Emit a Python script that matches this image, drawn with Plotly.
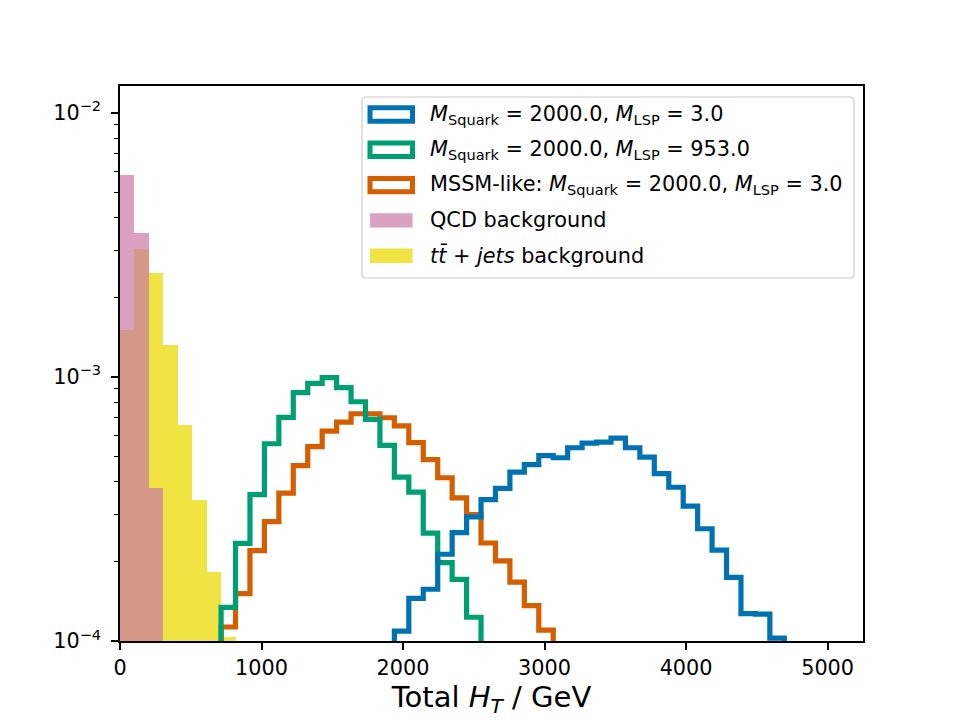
import numpy as np
import plotly.graph_objects as go

# histogram binning: 49 equal bins between 0 and 5000 GeV
bin_edges = np.linspace(0, 5000, 50)
bin_width = bin_edges[1] - bin_edges[0]

# normalised counts per bin (first_bin = index of first filled bin)
qcd_first_bin = 0
qcd_values = [5.82e-3, 3.50e-3, 3.80e-4]

ttbar_first_bin = 0
ttbar_values = [1.50e-3, 3.06e-3, 2.47e-3, 1.32e-3, 6.59e-4, 3.41e-4, 1.82e-4, 1.04e-4]

lsp3_first_bin = 19
lsp3_values = [1.09e-4, 1.45e-4, 1.57e-4, 2.13e-4, 2.57e-4, 2.95e-4, 3.43e-4, 3.78e-4,
               4.36e-4, 4.65e-4, 5.03e-4, 4.94e-4, 5.39e-4, 5.61e-4, 5.66e-4, 5.86e-4,
               5.39e-4, 4.97e-4, 4.30e-4, 3.82e-4, 3.24e-4, 2.66e-4, 2.21e-4, 1.74e-4,
               1.27e-4, 1.265e-4, 1.025e-4]

lsp953_first_bin = 7
lsp953_values = [1.34e-4, 2.34e-4, 3.58e-4, 5.58e-4, 7.02e-4, 8.71e-4, 9.45e-4, 9.93e-4,
                 9.10e-4, 8.05e-4, 6.90e-4, 5.50e-4, 4.17e-4, 3.66e-4, 2.56e-4, 1.98e-4,
                 1.71e-4, 1.23e-4]

mssm_first_bin = 7
mssm_values = [1.13e-4, 1.51e-4, 2.20e-4, 2.83e-4, 3.63e-4, 4.61e-4, 5.44e-4, 6.23e-4,
               6.74e-4, 7.25e-4, 7.25e-4, 7.00e-4, 6.52e-4, 5.64e-4, 4.86e-4, 4.15e-4,
               3.48e-4, 3.01e-4, 2.35e-4, 2.01e-4, 1.67e-4, 1.36e-4, 1.10e-4]

x_ticks = [0, 1000, 2000, 3000, 4000, 5000]
y_ticks = [1e-4, 1e-3, 1e-2]
y_tick_text = ["10<sup>\u22124</sup>", "10<sup>\u22123</sup>", "10<sup>\u22122</sup>"]
y_minor = [m * 10.0 ** e for e in (-4, -3, -2) for m in range(2, 10)]

BLUE = "#0072B2"
GREEN = "#009E73"
ORANGE = "#D55E00"
PINK = "#CC79A7"
YELLOW = "#F0E442"
FONT = "DejaVu Sans"
FS = 20.8

label_lsp3 = "<i>M</i><sub>Squark</sub> = 2000.0, <i>M</i><sub>LSP</sub> = 3.0"
label_lsp953 = "<i>M</i><sub>Squark</sub> = 2000.0, <i>M</i><sub>LSP</sub> = 953.0"
label_mssm = "MSSM-like: <i>M</i><sub>Squark</sub> = 2000.0, <i>M</i><sub>LSP</sub> = 3.0"
label_qcd = "QCD background"
label_ttbar = "<i>tt\u0304</i> + <i>jets</i> background"

FLOOR = 1e-6  # below the axis, so the outline starts/ends at the bottom


def bar_trace(first_bin, values, color, opacity):
    n = len(values)
    centers = (bin_edges[first_bin:first_bin + n] + bin_edges[first_bin + 1:first_bin + n + 1]) / 2
    return go.Bar(x=centers, y=values, width=bin_width, marker=dict(color=color, line=dict(width=0)),
                  opacity=opacity, showlegend=False, hoverinfo="skip")


def step_trace(first_bin, values, color):
    n = len(values)
    x = [bin_edges[first_bin]] + list(bin_edges[first_bin:first_bin + n + 1])
    y = [FLOOR] + list(values) + [FLOOR]
    return go.Scatter(x=x, y=y, mode="lines", line=dict(color=color, width=5.2, shape="hv"),
                      showlegend=False, hoverinfo="skip")


fig = go.Figure()
fig.add_trace(bar_trace(ttbar_first_bin, ttbar_values, YELLOW, 1.0))
fig.add_trace(bar_trace(qcd_first_bin, qcd_values, PINK, 0.7))
fig.add_trace(step_trace(mssm_first_bin, mssm_values, ORANGE))
fig.add_trace(step_trace(lsp953_first_bin, lsp953_values, GREEN))
fig.add_trace(step_trace(lsp3_first_bin, lsp3_values, BLUE))

# plot area in pixels
W, H = 960, 720
L, R, T, B = 120, 97, 86, 79
pw, ph = W - L - R, H - T - B


def px(xp):
    return (xp - L) / pw


def py(yp):
    return (H - B - yp) / ph


# hand-made legend, matplotlib style
shapes = []
annotations = []
bx0, bx1, by0, by1, rad = px(362), px(854), py(97), py(278), 4
rx, ry = rad / pw, rad / ph
frame = (f"M{bx0 + rx},{by0} L{bx1 - rx},{by0} Q{bx1},{by0} {bx1},{by0 - ry} "
         f"L{bx1},{by1 + ry} Q{bx1},{by1} {bx1 - rx},{by1} L{bx0 + rx},{by1} "
         f"Q{bx0},{by1} {bx0},{by1 + ry} L{bx0},{by0 - ry} Q{bx0},{by0} {bx0 + rx},{by0} Z")
shapes.append(dict(type="path", xref="paper", yref="paper", path=frame,
                   fillcolor="rgba(255,255,255,0.8)", line=dict(color="#cccccc", width=1.2)))

entries = [
    (label_lsp3, BLUE, "step"),
    (label_lsp953, GREEN, "step"),
    (label_mssm, ORANGE, "step"),
    (label_qcd, "rgba(204,121,167,0.7)", "fill"),
    (label_ttbar, YELLOW, "fill"),
]
for i, (text, color, kind) in enumerate(entries):
    yc = 114.5 + i * 35.3
    if kind == "step":
        shapes.append(dict(type="rect", xref="paper", yref="paper",
                           x0=px(370), x1=px(412.5), y0=py(yc - 6.7), y1=py(yc + 6.7),
                           fillcolor="white", line=dict(color=color, width=5)))
    else:
        shapes.append(dict(type="rect", xref="paper", yref="paper",
                           x0=px(370), x1=px(412.5), y0=py(yc - 7.2), y1=py(yc + 7.2),
                           fillcolor=color, line=dict(width=0)))
    annotations.append(dict(xref="paper", yref="paper", x=px(428), y=py(yc), text=text,
                            showarrow=False, xanchor="left", yanchor="middle",
                            font=dict(family=FONT, size=FS, color="black")))

fig.update_layout(
    width=W, height=H,
    margin=dict(l=L, r=R, t=T, b=B, autoexpand=False),
    plot_bgcolor="white", paper_bgcolor="white",
    barmode="overlay", bargap=0,
    font=dict(family=FONT, size=FS, color="black"),
    shapes=shapes, annotations=annotations,
    xaxis=dict(range=[0, 5250], tickvals=x_ticks, ticks="outside", ticklen=7, tickwidth=1.5,
               tickcolor="black", showline=True, linecolor="black", linewidth=1.5, mirror=True,
               showgrid=False, zeroline=False, automargin=False,
               title=dict(text="Total <i>H</i><sub><i>T</i></sub> / GeV",
                          font=dict(family=FONT, size=29), standoff=6)),
    yaxis=dict(type="log", range=[-4, -1.899], tickvals=y_ticks, ticktext=y_tick_text,
               ticks="outside", ticklen=7, tickwidth=1.5, tickcolor="black",
               ticklabelstandoff=6, automargin=False,
               minor=dict(tickvals=y_minor, ticks="outside", ticklen=4, tickwidth=1.2,
                          tickcolor="black", showgrid=False),
               showline=True, linecolor="black", linewidth=1.5, mirror=True,
               showgrid=False, zeroline=False),
)

fig.write_html("out.html", config={"displayModeBar": False},
               post_script="document.body.style.margin='0';")
